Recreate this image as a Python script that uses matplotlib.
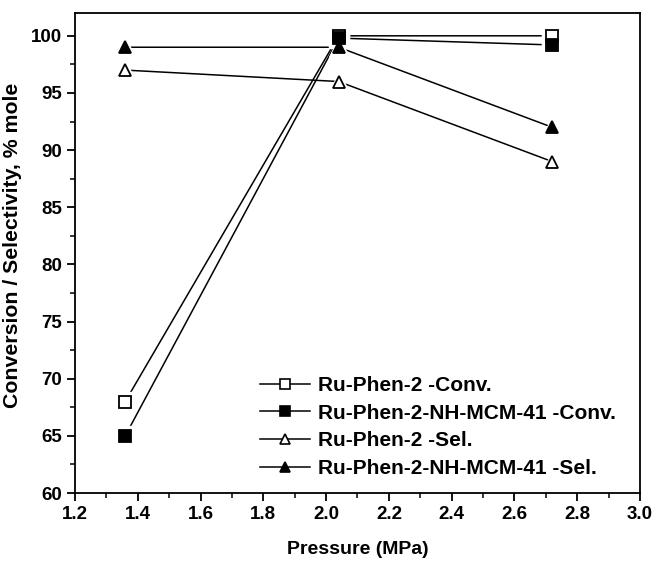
import matplotlib
matplotlib.use('Agg')
import matplotlib.pyplot as plt
from matplotlib.ticker import MultipleLocator
from matplotlib.lines import Line2D

plt.rcParams['font.family'] = ['Liberation Sans', 'DejaVu Sans']
plt.rcParams['font.weight'] = 'bold'

# Pressure (MPa) and conversion / selectivity (% mole)
pressure = [1.36, 2.04, 2.72]
conv_ruphen = [68, 100, 100]
conv_mcm = [65, 99.8, 99.2]
sel_ruphen = [97, 96, 89]
sel_mcm = [99, 99, 92]

labels = ['Ru-Phen-2 -Conv.', 'Ru-Phen-2-NH-MCM-41 -Conv.',
          'Ru-Phen-2 -Sel.', 'Ru-Phen-2-NH-MCM-41 -Sel.']
series = [conv_ruphen, conv_mcm, sel_ruphen, sel_mcm]
markers = ['s', 's', '^', '^']
faces = ['white', 'black', 'white', 'black']

fig = plt.figure(figsize=(6.56, 5.63), dpi=100)
ax = fig.add_axes([0.1143, 0.1243, 0.8613, 0.8527])

handles = []
for y, m, fc, lab in zip(series, markers, faces, labels):
    ax.plot(pressure, y, '-', color='black', lw=1.1, zorder=2)
    # white halo leaves a small gap between line and symbol
    ax.plot(pressure, y, m, ls='none', ms=14, mfc='white', mec='white', zorder=3)
    ax.plot(pressure, y, m, ls='none', ms=9, mfc=fc, mec='black', mew=1.3, zorder=4)
    handles.append(Line2D([], [], color='black', lw=1.1, marker=m, ms=7.5,
                          mfc=fc, mec='black', mew=1.2))

ax.set_xlim(1.2, 3.0)
ax.set_ylim(60, 102)
ax.xaxis.set_major_locator(MultipleLocator(0.2))
ax.xaxis.set_minor_locator(MultipleLocator(0.1))
ax.yaxis.set_major_locator(MultipleLocator(5))
ax.yaxis.set_minor_locator(MultipleLocator(2.5))
ax.tick_params(which='major', direction='out', length=6, width=1.3, labelsize=13.5)
ax.tick_params(which='minor', direction='out', length=3.5, width=1.1)
ax.tick_params(top=False, right=False)
for s in ax.spines.values():
    s.set_linewidth(1.3)

ax.set_xlabel('Pressure (MPa)', fontsize=14, fontweight='bold', labelpad=13)
ax.set_ylabel('Conversion / Selectivity, % mole', fontsize=15.3, fontweight='bold', labelpad=2)
ax.yaxis.set_label_coords(-0.093, 0.515)

leg = ax.legend(handles, labels, loc='lower right', frameon=False, fontsize=15,
                handlelength=2.4, handletextpad=0.35, labelspacing=0.42,
                bbox_to_anchor=(0.99, -0.008))
for t in leg.get_texts():
    t.set_fontweight('bold')

fig.savefig('out.png', dpi=100)
